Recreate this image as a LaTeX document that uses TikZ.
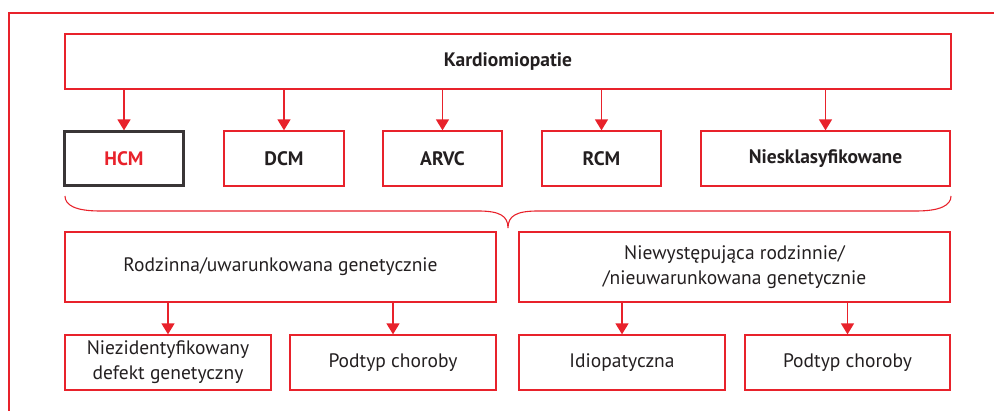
\documentclass[tikz,border=0pt]{standalone}
\usepackage{fontspec}
\setmainfont{PT Sans}
\usetikzlibrary{arrows.meta}
\definecolor{cred}{HTML}{E8222B}
\definecolor{ctext}{HTML}{231F20}
\begin{document}
\begin{tikzpicture}[x=1pt,y=-1pt,
  box/.style={draw=cred, line width=1.3pt, inner sep=0pt, text=ctext, align=center, font=\fontsize{19.5}{25}\selectfont},
  bbox/.style={box, font=\bfseries\fontsize{19.5}{25}\selectfont},
  arr/.style={draw=cred, line width=1.5pt, -{Triangle[width=13pt,length=11pt]}, cred},
  ]
\useasboundingbox (0,0) rectangle (994,411);
\draw[cred, line width=1.3pt] (9,411) -- (9,13) -- (994,13);
% top
\node[bbox, minimum width=886, minimum height=55] (top) at (508,61.5) {Kardiomiopatie};
% row 2
\node[bbox, draw=ctext!90, line width=2.2pt, text=cred, minimum width=119, minimum height=54] (hcm) at (124,158.5) {HCM};
\node[bbox, minimum width=120, minimum height=55] (dcm) at (284,158.5) {DCM};
\node[bbox, minimum width=119, minimum height=55] (arvc) at (442.5,158.5) {ARVC};
\node[bbox, minimum width=119, minimum height=55] (rcm) at (601.5,158.5) {RCM};
\node[bbox, minimum width=249, minimum height=55] (nies) at (825.5,158.5) {Niesklasyfikowane};
\foreach \n in {hcm, dcm, arvc, rcm, nies}
  \draw[arr] (top.south -| \n.north) -- (\n.north);
% brace
\coordinate (bl) at (65,196);
\coordinate (bm) at (508,228);
\coordinate (br) at (951,196);
\draw[cred, line width=1.1pt] (bl) .. controls (65,205) and (75,211) .. (100,211)
  -- (478,211) .. controls (500,211) and (508,216) .. (bm)
  .. controls (508,216) and (516,211) .. (538,211)
  -- (916,211) .. controls (941,211) and (951,205) .. (br);
% row 3
\node[box, minimum width=431, minimum height=70] (rod) at (280.5,267) {Rodzinna/uwarunkowana genetycznie};
\node[box, minimum width=431, minimum height=70] (nrod) at (734.5,267) {Niewystępująca rodzinnie/\\/nieuwarunkowana genetycznie};
% row 4
\node[box, minimum width=206, minimum height=55] (a) at (168,362.5) {Niezidentyfikowany\\defekt genetyczny};
\node[box, minimum width=206, minimum height=55] (b) at (393,362.5) {Podtyp choroby};
\node[box, minimum width=206, minimum height=55] (c) at (622,362.5) {Idiopatyczna};
\node[box, minimum width=205, minimum height=55] (d) at (847.5,362.5) {Podtyp choroby};
\foreach \p/\n in {rod/a, rod/b, nrod/c, nrod/d}
  \draw[arr] (\p.south -| \n.north) -- (\n.north);
\end{tikzpicture}
\end{document}
